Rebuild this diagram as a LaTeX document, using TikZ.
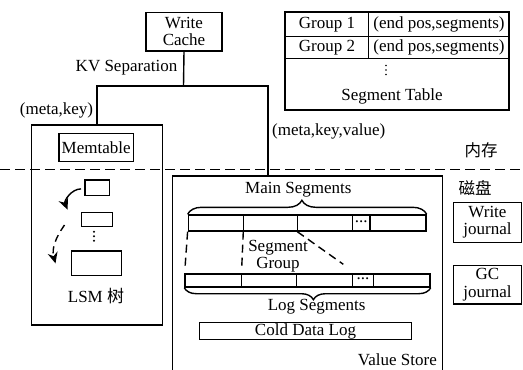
\documentclass[tikz,border=0pt]{standalone}
\usepackage{fontspec}
\setmainfont{Liberation Serif}
\newfontfamily\cjk{Noto Sans CJK SC}
\usetikzlibrary{arrows.meta,calc,decorations.pathreplacing}

\tikzset{
  base/.style={line width=1.4pt},
  box/.style={base,draw,rectangle,inner sep=0pt,align=center,font=\fontsize{17}{17.5}\selectfont},
  txt/.style={inner sep=0pt,align=center,font=\fontsize{17}{17.5}\selectfont},
  zh/.style={inner sep=0pt,font=\fontsize{16.5}{17}\selectfont\cjk},
  linkdash/.style={base,dash pattern=on 8pt off 5pt},
  lsmarrow/.style={base,-{Stealth[length=11pt,width=10pt]}},
  bracetop/.style={base,decorate,decoration={brace,amplitude=14pt,aspect=0.478}},
  bracebot/.style={base,decorate,decoration={brace,amplitude=12pt,aspect=0.476}},
  dot/.style={circle,fill,inner sep=0pt,minimum size=2.2pt}
}

\begin{document}
\begin{tikzpicture}[x=1pt,y=-1pt]
\useasboundingbox (0,0) rectangle (523,370);

% ---------- write cache and the split ----------
\node[box,minimum width=76pt,minimum height=38.5pt] (wc) at (184,31.7) {Write\\Cache};
\coordinate (split) at (183.5,86);
\coordinate (lft) at (97,86);
\coordinate (rgt) at (268,86);
\node[txt] (kv) at (126.5,68) {KV Separation};
\node[txt] (mk) at (56.5,110) {(meta,key)};
\node[txt,anchor=west] (mkv) at (272,131.7) {(meta,key,value)};

% ---------- segment table ----------
\node[box,minimum width=224pt,minimum height=98pt] (st) at (397,61) {};
\coordinate (r1) at (285,36.7);
\coordinate (r2) at (285,58.3);
\coordinate (cdiv) at (368.3,12);
\draw[base] (r1) -- (r1 -| st.east);
\draw[base] (r2) -- (r2 -| st.east);
\draw[base] (cdiv) -- (cdiv |- r2);
\node[txt] (g1) at (327,24.3) {Group 1};
\node[txt] (e1) at (439,24.3) {(end pos,segments)};
\node[txt] (g2) at (327,47.5) {Group 2};
\node[txt] (e2) at (439,47.5) {(end pos,segments)};
\node[dot,minimum size=1.8pt] (sd1) at (386,65.5) {};
\node[dot,minimum size=1.8pt] (sd2) at (386,70) {};
\node[dot,minimum size=1.8pt] (sd3) at (386,74.5) {};
\node[txt] (stl) at (392,96.7) {Segment Table};

% ---------- memory / disk boundary ----------
\coordinate (bl) at (0,169.3);
\coordinate (br) at (523,169.3);
\draw[base,dash pattern=on 9.5pt off 5.5pt] (bl) -- (br);
\node[zh] (mem) at (481,150) {内存};
\node[zh] (disk) at (475,188.3) {磁盘};

% ---------- LSM side ----------
\node[box,minimum width=130.6pt,minimum height=200pt] (lsm) at (97,225) {};
\node[box,minimum width=74.3pt,minimum height=28.4pt] (mt) at (96.2,147.5) {Memtable};
\node[box,minimum width=24.3pt,minimum height=15.7pt] (b1) at (97.2,187.9) {};
\node[box,minimum width=31pt,minimum height=14.4pt] (b2) at (97.2,219.5) {};
\node[box,minimum width=50pt,minimum height=24.7pt] (b3) at (96.7,263.4) {};
\node[dot] (ld1) at (94,231.7) {};
\node[dot] (ld2) at (94,236.2) {};
\node[dot] (ld3) at (94,240.7) {};
\node[txt] (lsml) at (96,296) {LSM {\cjk 树}};
\draw[lsmarrow] ($(b1.west)+(-3.3,1)$) to[out=180,in=112] ($(b2.north west)+(-13.5,-2)$);
\draw[lsmarrow,dash pattern=on 7pt off 5pt] ($(b2.west)+(-16.5,5.5)$) to[out=235,in=105] ($(b3.west)+(-15.5,0)$);

% ---------- value store ----------
\coordinate (vsTL) at (172.3,176);
\coordinate (vsTR) at (442.7,176);
\coordinate (vsBL) at (172.3,372);
\coordinate (vsBR) at (442.7,372);
\draw[base] (vsBL) -- (vsTL) -- (vsTR) -- (vsBR);

\draw[base] (wc.south) -- (split);
\draw[base] (lsm.north) -- (lft) -- (rgt) -- (rgt |- vsTL);

\node[txt] (ms) at (298.3,190) {Main Segments};
% main segment row
\node[box,minimum width=237.7pt,minimum height=16pt] (top) at (307.15,223) {};
\foreach \x/\n in {243.3/t1,297.3/t2,352.7/t3,370/t4}
  \draw[base] (\x,215) coordinate (\n) -- (\x,231);
\node[txt] (tdots) at (361.35,221.5) {...};
\draw[bracetop] (top.north west) -- (top.north east);

% log segment row
\node[box,minimum width=245pt,minimum height=13pt] (bot) at (307.5,280.5) {};
\foreach \x/\n in {241.7/u1,296.7/u2,352.7/u3,373.3/u4}
  \draw[base] (\x,274) coordinate (\n) -- (\x,287);
\node[txt] (bdots) at (363,278.5) {...};
\draw[bracebot] (bot.south east) -- (bot.south west);
\node[txt] (ls) at (316.7,306.7) {Log Segments};

% segment group links
\coordinate (d1) at (185,268);
\coordinate (d2) at (241.7,268);
\coordinate (d3) at (343.3,264.3);
\draw[linkdash] (top.south west) -- (d1);
\draw[linkdash] (top.south west -| t1) -- (d2);
\draw[linkdash] (top.south west -| t2) -- (d3);
\node[txt] (sg) at (278,256) {Segment\\Group};

\node[box,minimum width=212.4pt,minimum height=16.6pt] (cold) at (305.5,331) {Cold Data Log};
\node[txt,anchor=east] (vsl) at (437,359.3) {Value Store};

% ---------- journals ----------
\node[box,minimum width=68.4pt,minimum height=40pt] (wj) at (487.5,222.3) {Write\\journal};
\node[box,minimum width=68.4pt,minimum height=38.3pt] (gj) at (487.5,284.9) {GC\\journal};
\end{tikzpicture}
\end{document}
